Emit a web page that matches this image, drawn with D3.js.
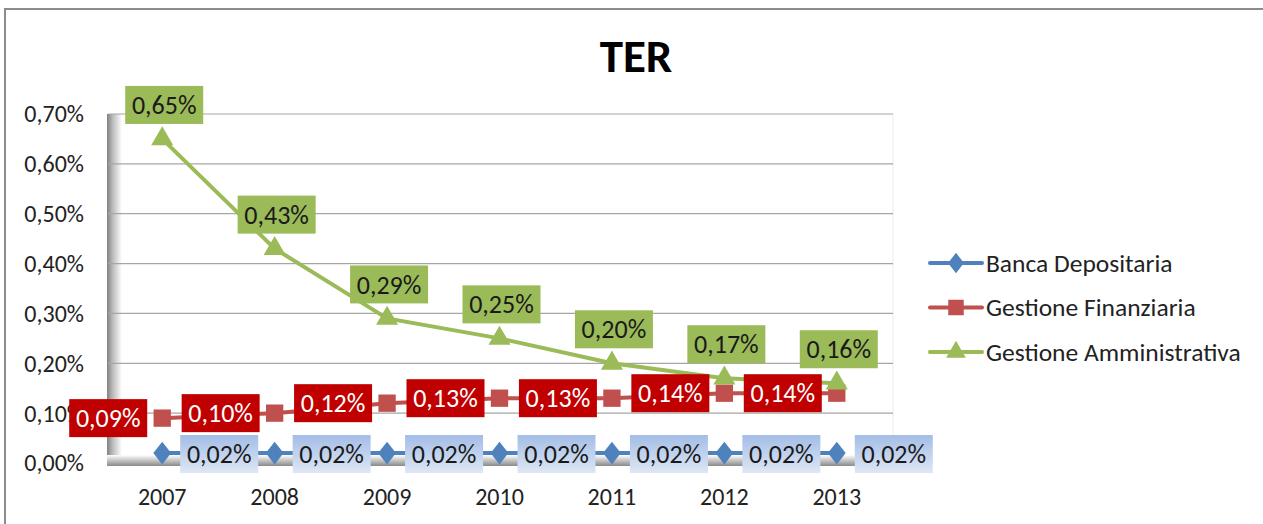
<!DOCTYPE html>
<html>
<head>
<meta charset="utf-8">
<script src="https://cdn.jsdelivr.net/npm/d3@7"></script>
<style>
  body { margin: 0; background: #fff; }
  svg { display: block; font-family: Calibri, Carlito, "Open Sans", sans-serif; }
</style>
</head>
<body>
<div id="chart"></div>
<script>
// Data
const years = ["2007", "2008", "2009", "2010", "2011", "2012", "2013"];
const bancaDepositaria = [0.0002, 0.0002, 0.0002, 0.0002, 0.0002, 0.0002, 0.0002];
const gestioneFinanziaria = [0.0009, 0.0010, 0.0012, 0.0013, 0.0013, 0.0014, 0.0014];
const gestioneAmministrativa = [0.0065, 0.0043, 0.0029, 0.0025, 0.0020, 0.0017, 0.0016];
const yTicks = [0, 0.001, 0.002, 0.003, 0.004, 0.005, 0.006, 0.007];

const W = 1263, H = 524;
const plot = { left: 106, right: 893, top: 114, bottom: 463 };

const locale = d3.formatLocale({ decimal: ",", thousands: ".", grouping: [3], currency: ["", "€"] });
const pct = locale.format(".2%");

const svg = d3.select("#chart").append("svg")
    .attr("width", W)
    .attr("height", H);

const defs = svg.append("defs");
const wallGrad = defs.append("linearGradient").attr("id", "wall").attr("x1", 0).attr("x2", 1).attr("y1", 0).attr("y2", 0);
wallGrad.append("stop").attr("offset", 0).attr("stop-color", "#808080");
wallGrad.append("stop").attr("offset", 0.35).attr("stop-color", "#b8b8b8");
wallGrad.append("stop").attr("offset", 1).attr("stop-color", "#ffffff");
const floorGrad = defs.append("linearGradient").attr("id", "floor").attr("x1", 0).attr("x2", 0).attr("y1", 0).attr("y2", 1);
floorGrad.append("stop").attr("offset", 0).attr("stop-color", "#ffffff");
floorGrad.append("stop").attr("offset", 0.6).attr("stop-color", "#b8b8b8");
floorGrad.append("stop").attr("offset", 1).attr("stop-color", "#8a8a8a");
const blueGrad = defs.append("linearGradient").attr("id", "bluebox").attr("x1", 0).attr("x2", 0).attr("y1", 0).attr("y2", 1);
blueGrad.append("stop").attr("offset", 0).attr("stop-color", "#a3bde6");
blueGrad.append("stop").attr("offset", 1).attr("stop-color", "#dee7f5");

// chart frame
svg.append("path")
    .attr("d", `M5,${H} V9 H${W}`)
    .attr("fill", "none")
    .attr("stroke", "#8c8c8c")
    .attr("stroke-width", 2);

// Title
svg.append("text")
    .attr("x", 636).attr("y", 72)
    .attr("text-anchor", "middle")
    .style("font-size", "47px").style("font-weight", "bold")
    .text("TER");

const x = d3.scalePoint().domain(years).range([plot.left, plot.right]).padding(0.5);
const y = d3.scaleLinear().domain([0, 0.007]).range([plot.bottom, plot.top]);

// walls
svg.append("rect")
    .attr("x", plot.left + 1).attr("y", plot.top)
    .attr("width", 15).attr("height", plot.bottom - plot.top + 3)
    .attr("fill", "url(#wall)");
svg.append("rect")
    .attr("x", plot.left + 1).attr("y", plot.bottom - 8)
    .attr("width", plot.right - plot.left - 1).attr("height", 11)
    .attr("fill", "url(#floor)");
svg.append("line")
    .attr("x1", plot.right).attr("x2", plot.right)
    .attr("y1", plot.top).attr("y2", plot.bottom)
    .attr("stroke", "#ececec");

// gridlines
svg.append("g")
    .selectAll("line")
    .data(yTicks.filter(d => d > 0))
    .join("line")
    .attr("x1", plot.left + 2).attr("x2", plot.right)
    .attr("y1", d => y(d)).attr("y2", d => y(d))
    .attr("stroke", "#a6a6a6")
    .attr("stroke-width", 1.2);

// y axis labels
svg.append("g")
    .selectAll("text")
    .data(yTicks)
    .join("text")
    .attr("x", 84)
    .attr("y", d => y(d))
    .attr("dy", "0.35em")
    .attr("text-anchor", "end")
    .style("font-size", "24px")
    .attr("fill", "#222")
    .text(d => pct(d));

// x axis labels
svg.append("g")
    .selectAll("text")
    .data(years)
    .join("text")
    .attr("x", d => x(d))
    .attr("y", 497)
    .attr("dy", "0.35em")
    .attr("text-anchor", "middle")
    .style("font-size", "24px")
    .attr("fill", "#222")
    .text(d => d);

const series = [
    { name: "Banca Depositaria", values: bancaDepositaria, color: "#4f81bd", symbol: d3.symbolDiamond, size: 150 },
    { name: "Gestione Finanziaria", values: gestioneFinanziaria, color: "#c0504d", symbol: d3.symbolSquare, size: 300 },
    { name: "Gestione Amministrativa", values: gestioneAmministrativa, color: "#9bbb59", symbol: d3.symbolTriangle, size: 210 }
];

const line = d3.line().x((d, i) => x(years[i])).y(d => y(d));

series.forEach(s => {
    svg.append("path")
        .datum(s.values)
        .attr("d", line)
        .attr("fill", "none")
        .attr("stroke", s.color)
        .attr("stroke-width", 4);
    svg.append("g")
        .selectAll("path")
        .data(s.values)
        .join("path")
        .attr("transform", (d, i) => `translate(${x(years[i])},${y(d)})` + (s.symbol === d3.symbolDiamond ? " scale(1.35,1)" : ""))
        .attr("d", d3.symbol().type(s.symbol).size(s.size))
        .attr("fill", s.color);
});

// data labels
const boxW = 78, boxH = 38;
function labels(values, fill, textColor, pos) {
    const g = svg.append("g")
        .selectAll("g")
        .data(values)
        .join("g")
        .attr("transform", (d, i) => {
            const px = x(years[i]), py = y(d);
            if (pos === "above") return `translate(${px + 2 - boxW / 2},${py - 15 - boxH})`;
            if (pos === "left") return `translate(${px - 15 - boxW},${py - boxH / 2})`;
            return `translate(${px + 18},${py - boxH / 2 + 1})`;
        });
    g.append("rect")
        .attr("width", boxW).attr("height", boxH)
        .attr("fill", fill);
    g.append("text")
        .attr("x", boxW / 2).attr("y", boxH / 2)
        .attr("dy", "0.35em")
        .attr("text-anchor", "middle")
        .style("font-size", "26px")
        .attr("fill", textColor)
        .text(d => pct(d));
}
labels(bancaDepositaria, "url(#bluebox)", "#1a1a1a", "right");
labels(gestioneFinanziaria, "#c00000", "#ffffff", "left");
labels(gestioneAmministrativa, "#9bbb59", "#1a1a1a", "above");

// legend
const legend = svg.append("g")
    .selectAll("g")
    .data(series)
    .join("g")
    .attr("transform", (d, i) => `translate(930,${263 + i * 44.5})`);
legend.append("line")
    .attr("x1", 0).attr("x2", 52)
    .attr("stroke", d => d.color)
    .attr("stroke-width", 4)
    .attr("stroke-linecap", "round");
legend.append("path")
    .attr("transform", d => "translate(26,0)" + (d.symbol === d3.symbolDiamond ? " scale(1.35,1)" : ""))
    .attr("d", d => d3.symbol().type(d.symbol).size(d.size * 0.8)())
    .attr("fill", d => d.color);
legend.append("text")
    .attr("x", 56)
    .attr("dy", "0.35em")
    .style("font-size", "25.5px")
    .attr("fill", "#222")
    .text(d => d.name);
</script>
</body>
</html>
